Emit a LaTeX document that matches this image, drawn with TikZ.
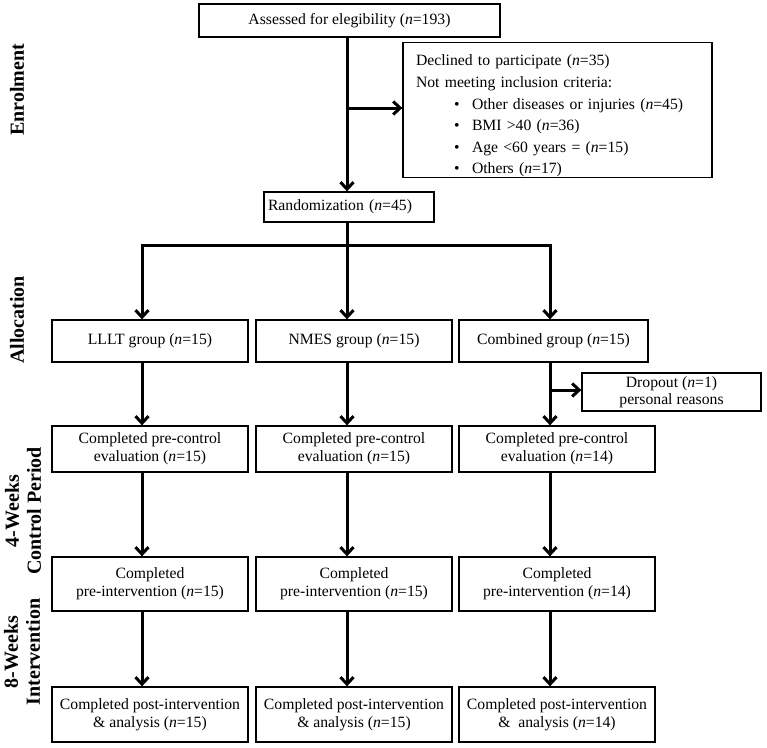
\documentclass[tikz,border=0pt]{standalone}
\usepackage{fontspec}
\setmainfont{Liberation Serif}
\usetikzlibrary{arrows.meta}

\begin{document}
\begin{tikzpicture}[x=1pt,y=-1pt,
  box/.style={draw,line width=1.3pt,align=center,inner sep=2pt,font=\fontsize{15.7}{18}\selectfont},
  flow/.style={line width=3pt,-{Straight Barb[length=7pt,width=13pt]}},
  phase/.style={rotate=90,align=center,font=\bfseries\fontsize{20}{22}\selectfont}]
\useasboundingbox (0,0) rectangle (767,747);

% phase labels
\node[phase] (enrol) at (17,90) {Enrolment};
\node[phase] (alloc) at (17,320) {Allocation};
\node[phase] (ctrl) at (23,511) {4-Weeks\\Control Period};
\node[phase] (interv) at (22,652) {8-Weeks\\Intervention};

% enrolment
\node[box,minimum width=301pt,minimum height=33pt] (assess) at (349.5,20.5) {Assessed for elegibility (\textit{n}=193)};
\node[box,align=left,text width=283pt,inner sep=0pt,minimum width=309pt,minimum height=134pt,font=\fontsize{15.7}{21.6}\selectfont] (excl) at (557.5,110) {\rule{0pt}{23pt}Declined to participate (\textit{n}=35)\\
Not meeting inclusion criteria:\\
\hspace*{38pt}\makebox[18pt][l]{\textbullet}Other diseases or injuries (\textit{n}=45)\\
\hspace*{38pt}\makebox[18pt][l]{\textbullet}BMI >40 (\textit{n}=36)\\
\hspace*{38pt}\makebox[18pt][l]{\textbullet}Age <60 years = (\textit{n}=15)\\
\hspace*{38pt}\makebox[18pt][l]{\textbullet}Others (\textit{n}=17)};
\node[box,align=left,text width=162pt,inner xsep=4pt,minimum height=30pt] (rand) at (349,207) {Randomization (\textit{n}=45)};

% allocation
\node[box,minimum width=196pt,minimum height=42pt] (lllt) at (150,341) {LLLT group (\textit{n}=15)};
\node[box,minimum width=196pt,minimum height=42pt] (nmes) at (354,341) {NMES group (\textit{n}=15)};
\node[box,minimum width=189pt,minimum height=42pt] (comb) at (553.5,341) {Combined group (\textit{n}=15)};
\node[box,minimum width=179pt,minimum height=38pt,font=\fontsize{15.7}{17}\selectfont] (drop) at (671.5,392) {Dropout (\textit{n}=1)\\personal reasons};

% control period
\node[box,minimum width=196pt,minimum height=46pt] (ctl1) at (150,449) {Completed pre-control\\evaluation (\textit{n}=15)};
\node[box,minimum width=196pt,minimum height=46pt] (ctl2) at (354,449) {Completed pre-control\\evaluation (\textit{n}=15)};
\node[box,minimum width=196pt,minimum height=46pt] (ctl3) at (557,449) {Completed pre-control\\evaluation (\textit{n}=14)};

% intervention
\node[box,minimum width=196pt,minimum height=54pt] (pre1) at (150,584) {Completed\\pre-intervention (\textit{n}=15)};
\node[box,minimum width=196pt,minimum height=54pt] (pre2) at (354,584) {Completed\\pre-intervention (\textit{n}=15)};
\node[box,minimum width=196pt,minimum height=54pt] (pre3) at (557,584) {Completed\\pre-intervention (\textit{n}=14)};
\node[box,minimum width=196pt,minimum height=55pt] (post1) at (150,714.5) {Completed post-intervention\\\& analysis (\textit{n}=15)};
\node[box,minimum width=196pt,minimum height=55pt] (post2) at (354,714.5) {Completed post-intervention\\\& analysis (\textit{n}=15)};
\node[box,minimum width=196pt,minimum height=55pt] (post3) at (557,714.5) {Completed post-intervention\\\& \ analysis (\textit{n}=14)};

% connectors
\coordinate (c1) at (142,245);
\coordinate (c2) at (347,245);
\coordinate (c3) at (550,245);
\coordinate (split) at (347,108);
\coordinate (out) at (550,390);
\draw[flow] (assess.south -| c2) -- (rand.north -| c2);
\draw[flow] (split) -- (excl.west |- split);
\draw[flow] (rand.south -| c2) -- (nmes.north -| c2);
\draw[flow] (c2) -- (c1) -- (lllt.north -| c1);
\draw[flow] (c2) -- (c3) -- (comb.north -| c3);
\draw[flow] (out) -- (drop.west |- out);

\draw[flow] (lllt.south -| c1) -- (ctl1.north -| c1);
\draw[flow] (nmes.south -| c2) -- (ctl2.north -| c2);
\draw[flow] (comb.south -| c3) -- (ctl3.north -| c3);
\draw[flow] (ctl1.south -| c1) -- (pre1.north -| c1);
\draw[flow] (ctl2.south -| c2) -- (pre2.north -| c2);
\draw[flow] (ctl3.south -| c3) -- (pre3.north -| c3);
\draw[flow] (pre1.south -| c1) -- (post1.north -| c1);
\draw[flow] (pre2.south -| c2) -- (post2.north -| c2);
\draw[flow] (pre3.south -| c3) -- (post3.north -| c3);
\end{tikzpicture}
\end{document}
